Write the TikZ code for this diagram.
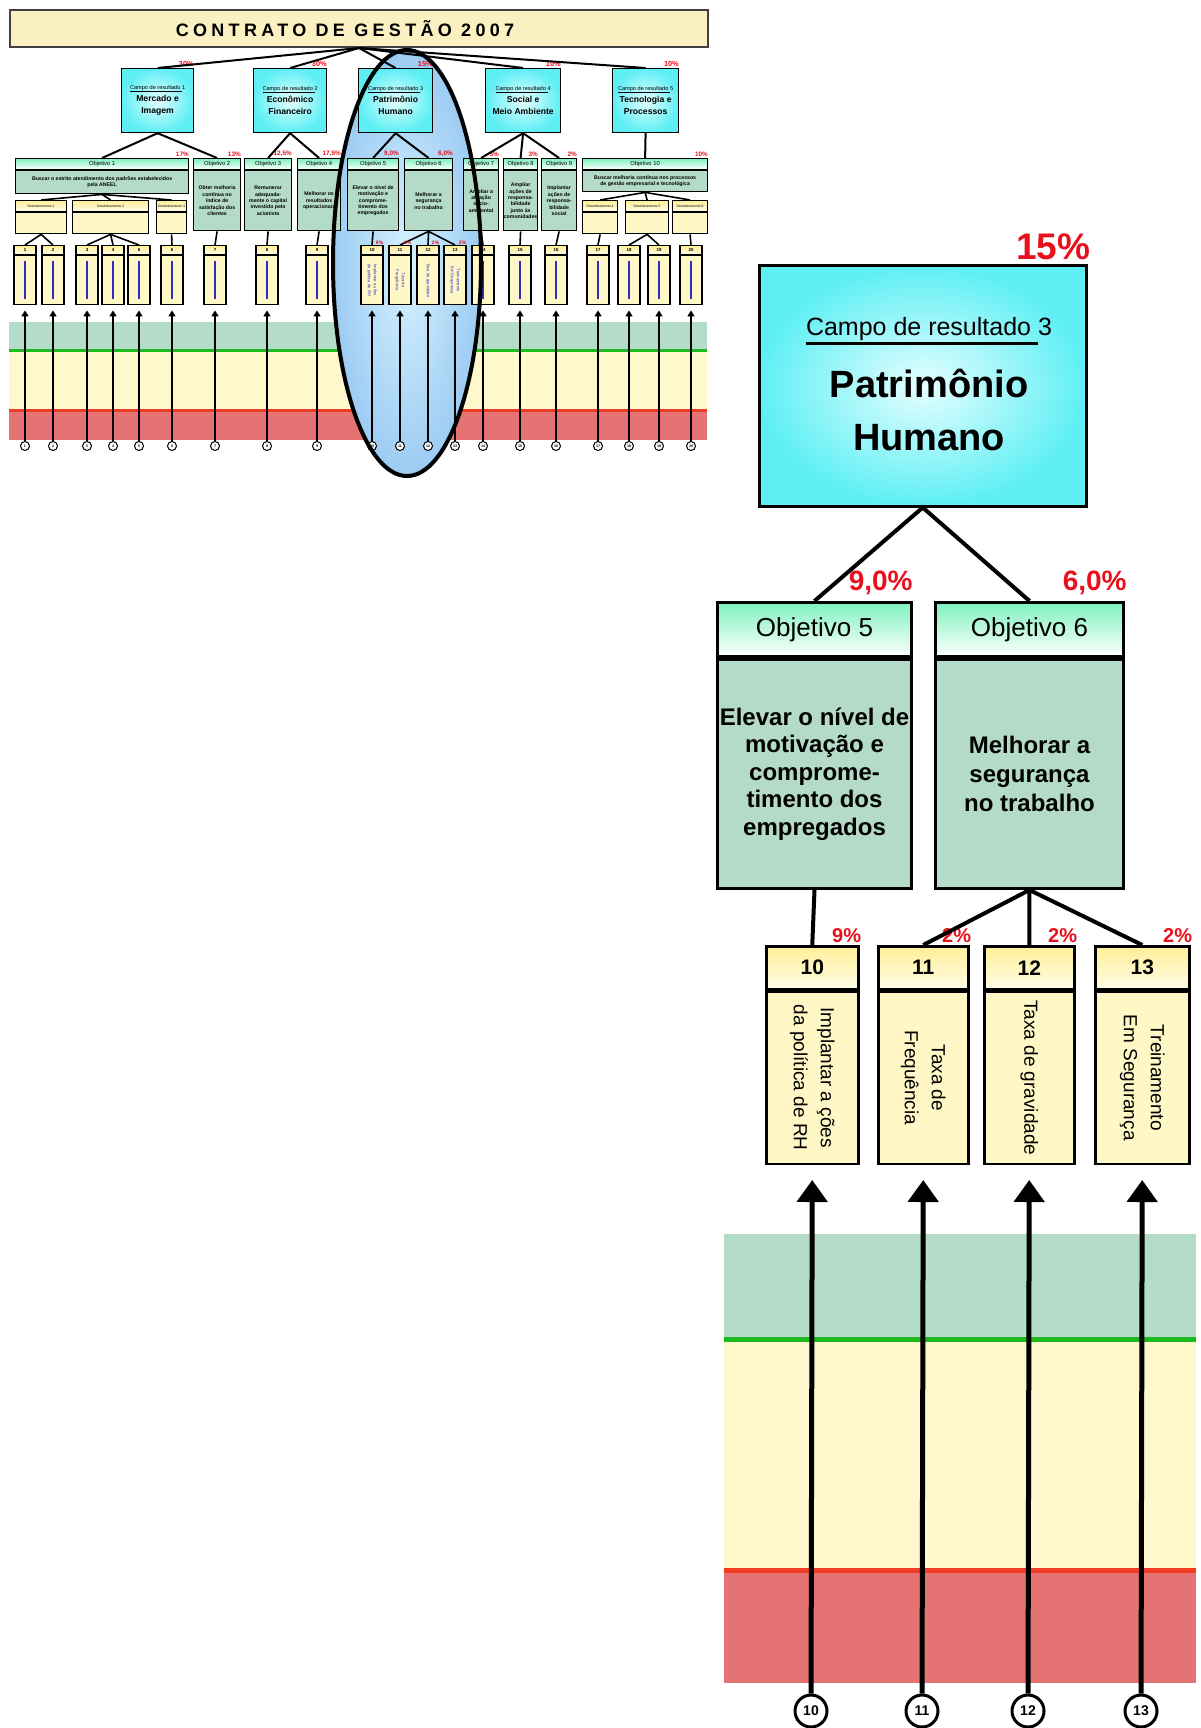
\documentclass[tikz,border=0pt]{standalone}
\usepackage{fontspec}
\setmainfont{Liberation Sans}
\newfontfamily\titlefont[LetterSpace=24]{Liberation Sans}
\usetikzlibrary{arrows.meta,shadings}

\definecolor{cyanbox}{HTML}{5EEFF4}
\definecolor{cyanlt}{HTML}{E6FEFF}
\definecolor{mint}{HTML}{7EF2BE}
\definecolor{sage}{HTML}{B3DBC7}
\definecolor{yelbox}{HTML}{FFF8C6}
\definecolor{yelhd}{HTML}{FFEF98}
\definecolor{faixaverde}{HTML}{B4DCC8}
\definecolor{faixaamar}{HTML}{FFF8CC}
\definecolor{faixaverm}{HTML}{E57373}
\definecolor{linhaverde}{HTML}{1FBA1F}
\definecolor{linhaverm}{HTML}{F03C24}
\definecolor{pctred}{HTML}{E8101C}
\definecolor{tituloamar}{HTML}{FAF0C2}
\definecolor{elipse}{HTML}{9CCBF2}
\definecolor{elipselt}{HTML}{D6F2FF}
\definecolor{azultexto}{HTML}{3030C0}

% sublinhado grosso: profundidade, espessura, texto
\newcommand{\sublinha}[3]{\setbox0\hbox{#3}\rlap{\rule[-#1]{\wd0}{#2}}\box0\relax}

\tikzset{
	titulo/.style={draw=black!75,line width=1pt,fill=tituloamar,inner sep=0pt,font=\titlefont\bfseries\fontsize{9}{10}\selectfont},
	campo/.style={draw,line width=1.25pt,inner color=cyanlt,outer color=cyanbox,inner sep=0pt,anchor=north west},
	objhead/.style={draw,line width=1.5pt,top color=mint,bottom color=white,inner sep=0pt},
	objbody/.style={draw,line width=1.5pt,fill=sage,inner sep=0pt,align=center},
	indhead/.style={draw,line width=1.25pt,top color=yelhd,bottom color=yelbox!40,inner sep=0pt},
	indbody/.style={draw,line width=1.25pt,fill=yelbox,inner sep=0pt},
	pct/.style={text=pctred,inner sep=0pt,anchor=south east},
	link/.style={line width=2pt},
	arr/.style={line width=2.5pt,-{Triangle[width=15pt,length=11pt]}},
	marca/.style={circle,draw,line width=1.5pt,fill=white,minimum size=16pt,inner sep=0pt,font=\bfseries\fontsize{7}{8}\selectfont},
}

\begin{document}
\begin{tikzpicture}[x=0.5pt,y=-0.5pt]
	\useasboundingbox (0,0) rectangle (1200,1728);

	% miniatura do contrato
	\fill[faixaverde] (9,322) rectangle (707,350);
	\fill[faixaamar] (9,350) rectangle (707,410);
	\fill[faixaverm] (9,410) rectangle (707,440);
	\draw[linhaverde,line width=1.5pt] (9,350) -- (707,350);
	\draw[linhaverm,line width=1.5pt] (9,410) -- (707,410);
	\fill[inner color=elipselt,outer color=elipse] (407,263) ellipse [x radius=37pt,y radius=106.5pt];

	\node[titulo,anchor=north west,minimum width=349pt,minimum height=18.5pt] (tit) at (9,9) {CONTRATO DE GESTÃO 2007\hspace*{14pt}};

	% campos de resultado
	\foreach \n/\xa/\w/\pc/\la/\lb in {1/121/36/30/Mercado e/Imagem,2/253/36.5/30/Econômico/Financeiro,3/358/37/15/Patrimônio/Humano,4/485/37.5/10/Social e/Meio Ambiente,5/612/33/10/Tecnologia e/Processos}{
		\node[campo,line width=0.6pt,minimum width=\w pt,minimum height=32pt,align=center,font=\bfseries\fontsize{4.3}{6}\selectfont] (cm\n) at (\xa,68) {{\mdseries\fontsize{2.8}{3.4}\selectfont\sublinha{1pt}{0.35pt}{Campo de resultado }\n}\\\la\\\lb};
		\node[pct,font=\bfseries\fontsize{3.7}{4}\selectfont,yshift=0.5pt] (pcm\n) at (cm\n.north east) {\pc\%};
		\draw[link,line width=1pt] (tit.south) -- (cm\n.north);
	}

	% objetivos
	\foreach \n/\xa/\w/\h/\pc/\txt in {1/15/86.5/11.5/17\%/Buscar o estrito atendimento dos padrões estabelecidos\\pela ANEEL,
		2/193/23.5/30/13\%/Obter melhoria\\contínua no\\índice de\\satisfação dos\\clientes,
		3/244/23.5/30/{12,5\%}/Remunerar\\adequada-\\mente o capital\\investido pelo\\acionista,
		4/297/21.5/30/{17,5\%}/Melhorar os\\resultados\\operacionais,
		5/347/25.5/30/{9,0\%}/Elevar o nível de\\motivação e\\comprome-\\timento dos\\empregados,
		6/404/24/30/{6,0\%}/Melhorar a\\segurança\\no trabalho,
		7/463/17.5/30/5\%/Ampliar a\\atuação\\sócio-\\ambiental,
		8/503/17/30/3\%/Ampliar\\ações de\\responsa-\\bilidade\\junto às\\comunidades,
		9/541/17.5/30/2\%/Implantar\\ações de\\responsa-\\bilidade\\social,
		10/582/62.5/10.5/10\%/Buscar melhoria contínua nos processos\\de gestão empresarial e tecnológica}{
		\node[objhead,line width=0.6pt,anchor=north west,minimum width=\w pt,minimum height=5.5pt,font=\fontsize{2.9}{3.5}\selectfont] (omh\n) at (\xa,158) {Objetivo \n};
		\node[objbody,line width=0.6pt,anchor=north,minimum width=\w pt,minimum height=\h pt,font=\bfseries\fontsize{2.6}{3.2}\selectfont] (om\n) at (omh\n.south) {\txt};
		\node[pct,font=\bfseries\fontsize{3.2}{4}\selectfont,yshift=0.5pt] (pom\n) at (omh\n.north east) {\pc};
	}
	\foreach \c/\o in {1/1,1/2,2/3,2/4,3/5,3/6,4/7,4/8,4/9,5/10}
		\draw[link,line width=1pt] (cm\c.south) -- (omh\o.north);

	% desdobramentos
	\foreach \n/\xa/\w in {1/15/25.5,2/72/38,3/156/15,4/582/17.5,5/625/21.5,6/672/17.5}{
		\node[indhead,line width=0.6pt,anchor=north west,minimum width=\w pt,minimum height=5.5pt,font=\fontsize{1.7}{2}\selectfont] (dmh\n) at (\xa,200) {Desdobramento \n};
		\node[indbody,line width=0.6pt,anchor=north,minimum width=\w pt,minimum height=10.5pt] (dm\n) at (dmh\n.south) {};
	}
	\foreach \d in {1,2,3}
		\draw[link,line width=0.8pt] (om1.south) -- (dmh\d.north);
	\foreach \d in {4,5,6}
		\draw[link,line width=0.8pt] (om10.south) -- (dmh\d.north);

	% indicadores
	\foreach \n/\cx in {1/25,2/53,3/87,4/113,5/139,6/172,7/215,8/267,9/317,10/372,11/400,12/428,13/455,14/483,15/520,16/556,17/598,18/629,19/659,20/691}{
		\node[indhead,line width=0.6pt,anchor=north,minimum width=11pt,minimum height=4.5pt,font=\bfseries\fontsize{2.2}{2.5}\selectfont] (imh\n) at (\cx,245) {\n};
		\node[indbody,line width=0.6pt,anchor=north,minimum width=11pt,minimum height=24.5pt] (im\n) at (imh\n.south) {};
		\node[marca,minimum size=4.5pt,line width=0.5pt,font=\bfseries\fontsize{1.8}{2}\selectfont] (mm\n) at (\cx,446) {\n};
		\draw[line width=0.9pt,-{Triangle[width=3.5pt,length=3pt]},shorten >=2.5pt] (mm\n) -- (im\n.south);
	}
	\foreach \p/\n in {dm1/1,dm1/2,dm2/3,dm2/4,dm2/5,dm3/6,om2/7,om3/8,om4/9,om5/10,om6/11,om6/12,om6/13,om7/14,om8/15,om9/16,dm4/17,dm5/18,dm5/19,dm6/20}
		\draw[link,line width=0.8pt] (\p.south) -- (imh\n.north);
	\foreach \n in {1,...,9,14,15,...,20}
		\draw[azultexto,line width=1.3pt] ([yshift=-3pt]im\n.north) -- ([yshift=3pt]im\n.south);
	\foreach \n/\txt in {10/Implantar a ções\\da política de RH,11/Taxa de\\Frequência,12/Taxa de gravidade,13/Treinamento\\Em Segurança}
		\node[rotate=-90,align=center,text=azultexto,font=\fontsize{2.1}{3}\selectfont] (tm\n) at (im\n.center) {\txt};
	\foreach \n/\pc in {10/9,11/2,12/2,13/2}
		\node[pct,font=\bfseries\fontsize{2.5}{3}\selectfont] (pim\n) at (imh\n.north east) {\pc\%};

	\draw[line width=2pt] (407,263) ellipse [x radius=37pt,y radius=106.5pt];

	% detalhe: campo de resultado 3
	\fill[faixaverde] (724,1234) rectangle (1196,1339);
	\fill[faixaamar] (724,1339) rectangle (1196,1570);
	\fill[faixaverm] (724,1570) rectangle (1196,1683);
	\draw[linhaverde,line width=2.5pt] (724,1339) -- (1196,1339);
	\draw[linhaverm,line width=2.5pt] (724,1570) -- (1196,1570);

	\node[campo,minimum width=163.5pt,minimum height=120.5pt] (c3) at (758,264) {};
	\node[font=\fontsize{12.5}{15}\selectfont,anchor=base,inner sep=0pt] (c3t) at (929,335) {\sublinha{4.75pt}{1.5pt}{Campo de resultado }3};
	\node[font=\bfseries\fontsize{19}{22}\selectfont,anchor=base,inner sep=0pt] (c3a) at (929,397) {Patrimônio};
	\node[font=\bfseries\fontsize{19}{22}\selectfont,anchor=base,inner sep=0pt] (c3b) at (929,450) {Humano};
	\node[pct,font=\bfseries\fontsize{18.5}{20}\selectfont] (p15) at ([xshift=1.5pt,yshift=2pt]c3.north east) {15\%};

	\node[objhead,anchor=north west,minimum width=97pt,minimum height=27pt,font=\fontsize{13}{15}\selectfont] (o5h) at (716,601) {Objetivo 5};
	\node[objbody,anchor=north,minimum width=97pt,minimum height=114.5pt,font=\bfseries\fontsize{12}{13.75}\selectfont] (o5) at (o5h.south) {Elevar o nível de\\motivação e\\comprome-\\timento dos\\empregados};
	\node[pct,font=\bfseries\fontsize{14}{16}\selectfont] (p5) at ([yshift=3pt]o5h.north east) {9,0\%};
	\node[objhead,anchor=north west,minimum width=94pt,minimum height=27pt,font=\fontsize{13}{15}\selectfont] (o6h) at (934,601) {Objetivo 6};
	\node[objbody,anchor=north,minimum width=94pt,minimum height=114.5pt,font=\bfseries\fontsize{12}{14.5}\selectfont] (o6) at (o6h.south) {Melhorar a\\segurança\\no trabalho};
	\node[pct,font=\bfseries\fontsize{14}{16}\selectfont] (p6) at ([xshift=1pt,yshift=3pt]o6h.north east) {6,0\%};

	\draw[link] (c3.south) -- (o5h.north);
	\draw[link] (c3.south) -- (o6h.north);

	\foreach \n/\xa/\w/\pc/\txt in {10/765/46/9/Implantar a ções\\da política de RH,11/877/45/2/Taxa de\\Frequência,12/983/45/2/Taxa de gravidade,13/1094/47/2/Treinamento\\Em Segurança}{
		\node[indhead,anchor=north west,minimum width=\w pt,minimum height=21.5pt,font=\bfseries\fontsize{10.5}{12}\selectfont] (h\n) at (\xa,945) {\n};
		\node[indbody,anchor=north,minimum width=\w pt,minimum height=86pt] (i\n) at (h\n.south) {};
		\node[rotate=-90,align=center,font=\fontsize{9.5}{13.5}\selectfont] (t\n) at (i\n.center) {\txt};
		\node[pct,font=\bfseries\fontsize{10}{12}\selectfont] (pi\n) at ([xshift=1pt,yshift=1pt]h\n.north east) {\pc\%};
		\node[marca] (m\n) at ({\xa+\w},1711) {\n};
		\draw[arr,shorten >=7.5pt] (m\n) -- (i\n.south);
	}
	\draw[link] (o5.south) -- (h10.north);
	\foreach \n in {11,12,13}
		\draw[link] (o6.south) -- (h\n.north);
\end{tikzpicture}
\end{document}
